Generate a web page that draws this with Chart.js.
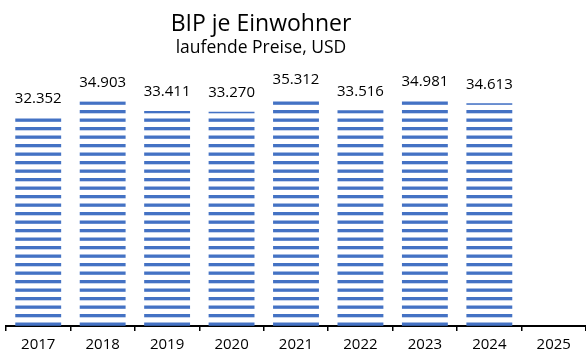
<!DOCTYPE html>
<html>
<head>
<meta charset="utf-8">
<script src="https://cdn.jsdelivr.net/npm/chart.js@4.4.1/dist/chart.umd.min.js"></script>
<style>
  html, body { margin: 0; padding: 0; background: #fff; }
  #wrap { width: 586px; height: 351px; position: relative; }
</style>
</head>
<body>
<div id="wrap"><canvas id="myChart" width="586" height="351"></canvas></div>
<script>
var years = ["2017", "2018", "2019", "2020", "2021", "2022", "2023", "2024", "2025"];
var gdpPerCapita = [32352, 34903, 33411, 33270, 35312, 33516, 34981, 34613, null];
var chartTitle = "BIP je Einwohner";
var chartSubtitle = "laufende Preise, USD";

var FONT = "'Open Sans', 'Noto Sans', sans-serif";

// horizontal stripe fill like the original bars (period 8.5px)
function stripes() {
    var c = document.createElement('canvas');
    c.width = 10;
    c.height = 17;
    var g = c.getContext('2d');
    g.fillStyle = '#4472C4';
    [-0.5, 8.0, 16.5].forEach(function (y) {
        g.fillRect(0, y, 10, 3.3);
    });
    return g.createPattern(c, 'repeat');
}

var titlePlugin = {
    id: 'titles',
    afterDraw: function (chart) {
        var ctx = chart.ctx;
        ctx.save();
        ctx.fillStyle = '#000';
        ctx.textAlign = 'center';
        ctx.textBaseline = 'alphabetic';
        ctx.font = "23px " + FONT;
        ctx.fillText(chartTitle, 261, 31);
        ctx.font = "17.5px " + FONT;
        ctx.fillText(chartSubtitle, 261, 53);
        ctx.restore();
    }
};

var valueLabels = {
    id: 'valueLabels',
    afterDatasetsDraw: function (chart) {
        var ctx = chart.ctx;
        var meta = chart.getDatasetMeta(0);
        ctx.save();
        ctx.fillStyle = '#000';
        ctx.textAlign = 'center';
        ctx.textBaseline = 'alphabetic';
        ctx.font = "15px " + FONT;
        meta.data.forEach(function (bar, i) {
            var v = gdpPerCapita[i];
            if (v == null) return;
            ctx.fillText(v.toLocaleString('de-DE'), bar.x, bar.y - 14.5);
        });
        ctx.restore();
    }
};

var ctx = document.getElementById('myChart').getContext('2d');
var myChart = new Chart(ctx, {
    type: 'bar',
    data: {
        labels: years,
        datasets: [{
            data: gdpPerCapita,
            backgroundColor: stripes(),
            borderWidth: 0,
            barPercentage: 0.712,
            categoryPercentage: 1
        }]
    },
    options: {
        responsive: false,
        animation: false,
        layout: { padding: { left: 6, right: -2, top: 68.5, bottom: 0 } },
        plugins: {
            legend: { display: false },
            tooltip: { enabled: false }
        },
        scales: {
            x: {
                offset: true,
                afterFit: function (scale) { scale.height = 25; },
                grid: {
                    offset: true,
                    drawOnChartArea: false,
                    drawTicks: true,
                    tickLength: 5,
                    color: '#000',
                    lineWidth: 1.5
                },
                border: { display: true, color: '#000', width: 2 },
                ticks: {
                    color: '#000',
                    font: { family: FONT, size: 15, lineHeight: 1.2 },
                    padding: 5,
                    maxRotation: 0
                }
            },
            y: {
                display: false,
                min: 0,
                max: 40000
            }
        }
    },
    plugins: [titlePlugin, valueLabels]
});
</script>
</body>
</html>
